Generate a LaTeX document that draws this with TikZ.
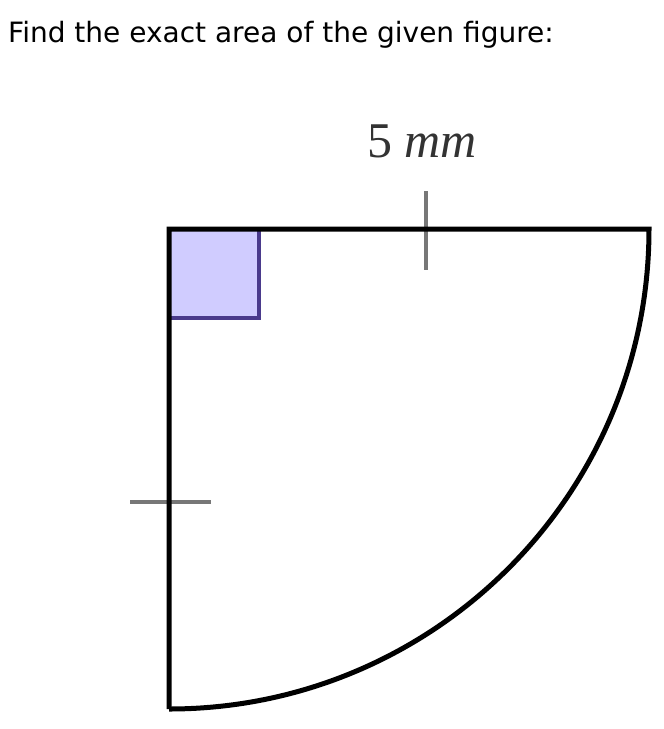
\documentclass[tikz,border=0pt]{standalone}
\usepackage{fontspec}
\setmainfont{DejaVu Sans}
\newfontfamily\labelfont{Liberation Serif}
\definecolor{sqfill}{HTML}{D0CCFF}
\definecolor{sqedge}{HTML}{4A3A8C}
\definecolor{tickgray}{HTML}{777777}
\definecolor{labelgray}{HTML}{333333}
\begin{document}
\begin{tikzpicture}[x=1pt,y=-1pt,
  edge/.style={line width=5pt,black,line join=miter},
  tickmark/.style={line width=3.5pt,tickgray},
  rightangle/.style={fill=sqfill,draw=sqedge,line width=3.5pt}]
\useasboundingbox (0,0) rectangle (664,729);
\node[anchor=base west,inner sep=0pt,font=\fontsize{28}{32}\selectfont] (title) at (8,42) {Find the exact area of the given figure:};
\coordinate (O) at (169,229);
\coordinate (E) at (649,229);
\coordinate (S) at (169,709);
\coordinate (t1a) at (426,191);
\coordinate (t1b) at (426,270);
\coordinate (t2a) at (130,502);
\coordinate (t2b) at (211,502);
\draw[tickmark] (t1a) -- (t1b);
\draw[tickmark] (t2a) -- (t2b);
\draw[rightangle] (O) rectangle (259,318);
\draw[edge] (S) -- (O) -- (E) arc[start angle=0,end angle=90,radius=480];
\node[anchor=base,inner sep=0pt,text=labelgray,font=\labelfont\fontsize{50}{56}\selectfont] (lab) at (422,157) {5 \textit{mm}};
\end{tikzpicture}
\end{document}
